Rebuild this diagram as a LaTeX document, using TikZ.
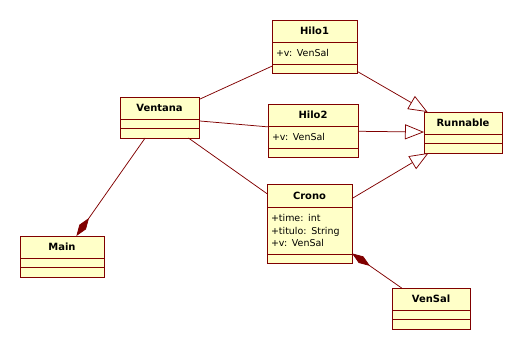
\documentclass[tikz,border=0pt]{standalone}
\usepackage{fontspec}
\setmainfont{DejaVu Sans}
\usetikzlibrary{arrows.meta, positioning, fit}

\definecolor{umlred}{RGB}{128,0,0}
\definecolor{umlfill}{RGB}{255,255,200}

\begin{document}
\begin{tikzpicture}[
  x=1bp, y=-1bp,
  part/.style={draw=umlred, fill=umlfill, line width=0.9bp, inner sep=0pt, outer sep=0pt},
  classname/.style={part, anchor=north, minimum width=#1, minimum height=22bp, font=\bfseries\fontsize{10}{12}\selectfont},
  attrs/.style={part, align=left, text width=#1, inner xsep=4bp, minimum height=22bp, font=\fontsize{9.5}{13}\selectfont},
  compartment/.style={part, minimum width=#1, minimum height=9.5bp},
  classbox/.style={inner sep=0pt, outer sep=0pt},
  assoc/.style={draw=umlred, line width=0.75bp},
  comp/.style={assoc, -{Diamond[length=22bp, width=8bp, fill=umlred]}},
  gen/.style={assoc, -{Triangle[open, length=19bp, width=15bp, fill=white]}}
]
\useasboundingbox (0,0) rectangle (523,350);

% classes
\node[classname=79bp] (ventananame) at (159.5,97) {Ventana};
\node[compartment=79bp, below=0pt of ventananame] (ventanaattr) {};
\node[compartment=79bp, below=0pt of ventanaattr] (ventanaops) {};
\node[classbox, fit=(ventananame)(ventanaops)] (ventana) {};

\node[classname=85bp] (hilo1name) at (314.5,20) {Hilo1};
\node[attrs=77bp, below=0pt of hilo1name] (hilo1attr) {+v: VenSal};
\node[compartment=85bp, below=0pt of hilo1attr] (hilo1ops) {};
\node[classbox, fit=(hilo1name)(hilo1ops)] (hilo1) {};

\node[classname=90bp] (hilo2name) at (313,104) {Hilo2};
\node[attrs=82bp, below=0pt of hilo2name] (hilo2attr) {+v: VenSal};
\node[compartment=90bp, below=0pt of hilo2attr] (hilo2ops) {};
\node[classbox, fit=(hilo2name)(hilo2ops)] (hilo2) {};

\node[classname=85bp, minimum height=23bp] (crononame) at (309.5,184) {Crono};
\node[attrs=77bp, minimum height=47bp, below=0pt of crononame] (cronoattr) {+time: int\\+titulo: String\\+v: VenSal};
\node[compartment=85bp, below=0pt of cronoattr] (cronoops) {};
\node[classbox, fit=(crononame)(cronoops)] (crono) {};

\node[classname=78bp] (runnablename) at (463,112) {Runnable};
\node[compartment=78bp, below=0pt of runnablename] (runnableattr) {};
\node[compartment=78bp, below=0pt of runnableattr] (runnableops) {};
\node[classbox, fit=(runnablename)(runnableops)] (runnable) {};

\node[classname=84bp] (mainname) at (62,236) {Main};
\node[compartment=84bp, below=0pt of mainname] (mainattr) {};
\node[compartment=84bp, below=0pt of mainattr] (mainops) {};
\node[classbox, fit=(mainname)(mainops)] (main) {};

\node[classname=78bp] (vensalname) at (431,288) {VenSal};
\node[compartment=78bp, below=0pt of vensalname] (vensalattr) {};
\node[compartment=78bp, below=0pt of vensalattr] (vensalops) {};
\node[classbox, fit=(vensalname)(vensalops)] (vensal) {};

% associations
\draw[assoc] (ventana) -- (hilo1);
\draw[assoc] (ventana) -- (hilo2);
\draw[assoc] (ventana) -- (crono);
\draw[comp] (ventana) -- (main);
\draw[comp] (vensal) -- (crono);

% realizations of Runnable
\draw[gen] (hilo1) -- (runnable);
\draw[gen] (hilo2) -- (runnable);
\draw[gen] (crono) -- (runnable);
\end{tikzpicture}
\end{document}
